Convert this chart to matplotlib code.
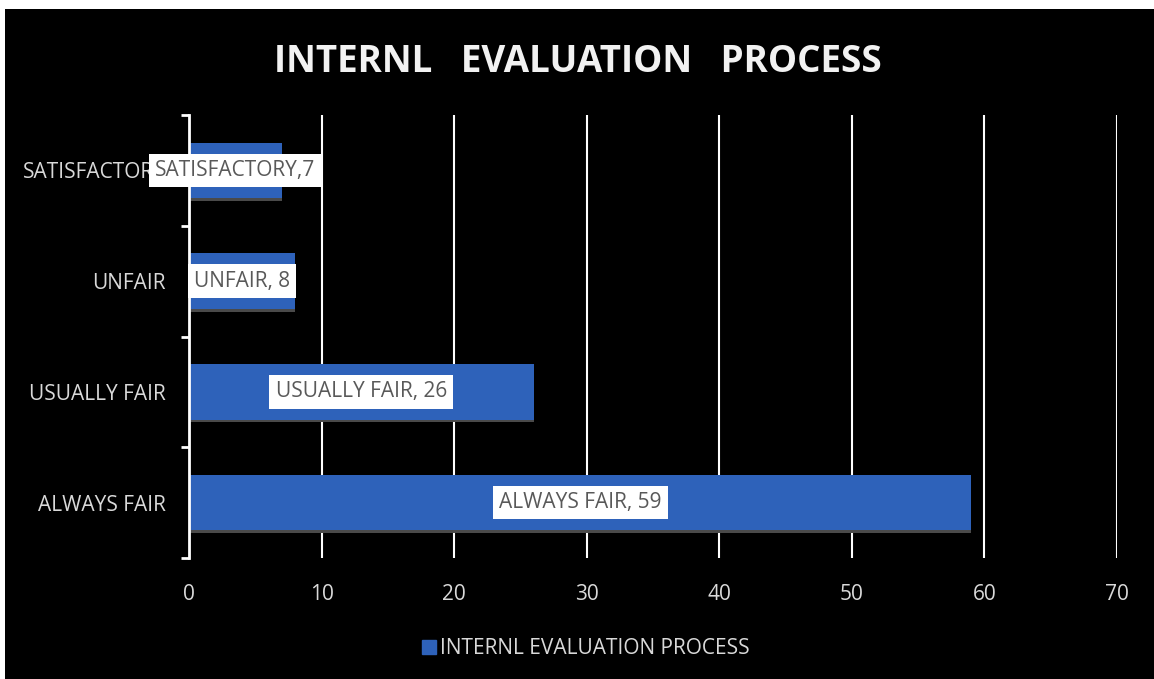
import matplotlib
matplotlib.use("Agg")
import matplotlib.pyplot as plt
from matplotlib.patches import Rectangle
from matplotlib.lines import Line2D
import numpy as np

categories = ["ALWAYS FAIR", "USUALLY FAIR", "UNFAIR", "SATISFACTORY"]
values = [59, 26, 8, 7]
data_labels = ["ALWAYS FAIR, 59", "USUALLY FAIR, 26", "UNFAIR, 8", "SATISFACTORY,7"]
x_ticks = [0, 10, 20, 30, 40, 50, 60, 70]
series_name = "INTERNL EVALUATION PROCESS"
title = "INTERNL   EVALUATION   PROCESS"

plt.rcParams['font.family'] = ['Open Sans', 'DejaVu Sans']

W, H = 1154, 679
fig = plt.figure(figsize=(W / 100, H / 100), dpi=100)
fig.patch.set_facecolor('white')
# black chart area (white strip at top and left)
fig.add_artist(Rectangle((5 / W, 0), 1 - 5 / W, 1 - 9 / H, transform=fig.transFigure,
                         facecolor='black', edgecolor='none', zorder=0))

ax = fig.add_axes([189 / W, 1 - 558 / H, (1117 - 189) / W, (558 - 115) / H])
ax.set_facecolor('black')
ax.patch.set_alpha(0)

y = np.arange(len(categories))
bar_color = '#2E62BA'
ax.barh(y - 0.025, values, height=0.5, color='#4a4a4a', zorder=2)
ax.barh(y, values, height=0.5, color=bar_color, zorder=3)

for yi, v, lab in zip(y, values, data_labels):
    ax.text(v / 2, yi, lab, ha='center', va='center', fontsize=15, color='#595959',
            zorder=5, bbox=dict(facecolor='white', edgecolor='none', pad=4.5))

ax.set_xlim(0, 70)
ax.set_ylim(-0.5, 3.5)
ax.set_xticks(x_ticks)
ax.set_xticklabels([str(t) for t in x_ticks])
ax.set_yticks(y)
ax.set_yticklabels(categories)
ax.set_yticks(np.arange(-0.5, 4.0, 1.0), minor=True)
ax.tick_params(axis='y', which='major', length=0, pad=17, labelsize=15, colors='#D9D9D9')
ax.tick_params(axis='y', which='minor', length=6, width=2, color='white')
ax.tick_params(axis='x', length=0, pad=19, labelsize=15, colors='#D9D9D9')

ax.grid(axis='x', color='white', linewidth=1.5, zorder=1)
ax.set_axisbelow(True)
for s in ['top', 'right', 'bottom']:
    ax.spines[s].set_visible(False)
ax.spines['left'].set_color('white')
ax.spines['left'].set_linewidth(2)
ax.spines['left'].set_zorder(4)

fig.text(578 / W, 1 - 62 / H, title, ha='center', va='center', fontsize=26.5,
         fontweight='bold', color='#F2F2F2')

handle = Line2D([], [], marker='s', linestyle='none', markersize=9.5,
                markerfacecolor=bar_color, markeredgecolor=bar_color)
fig.legend([handle], [series_name], loc='center', bbox_to_anchor=(585 / W, 1 - 649 / H),
           frameon=False, fontsize=15, labelcolor='#D9D9D9', handletextpad=0.1,
           handlelength=0.8)

fig.savefig('out.png', dpi=100, facecolor=fig.get_facecolor())
